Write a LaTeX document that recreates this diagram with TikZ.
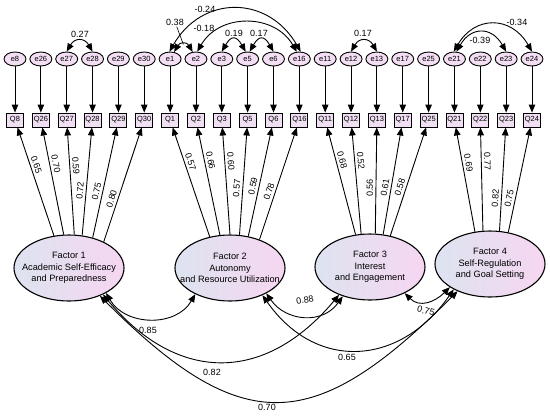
\documentclass[tikz,border=0pt]{standalone}
\usepackage{fontspec}
\setmainfont{Liberation Sans}
\usepackage{tikz}
\usetikzlibrary{arrows.meta,shapes.geometric}
\definecolor{errpink}{RGB}{243,222,243}
\definecolor{qpink}{RGB}{240,223,243}
\definecolor{latentblue}{RGB}{221,227,240}
\definecolor{latentpink}{RGB}{246,214,241}

\begin{document}
\begin{tikzpicture}[->,>={Triangle[length=8pt,width=6.5pt]},x=1pt,y=-1pt,
                    line width=0.9pt,node distance=25.85pt]
  \tikzstyle{err}=[ellipse,draw,fill=errpink,minimum width=22pt,minimum height=14pt,
                   inner sep=0.5pt,font=\fontsize{7.5}{8}\selectfont]
  \tikzstyle{qbox}=[rectangle,draw,fill=qpink,minimum width=17pt,minimum height=14pt,
                    inner sep=0.5pt,font=\fontsize{7.5}{8}\selectfont]
  \tikzstyle{latent}=[ellipse,draw,line width=1.1pt,left color=latentblue,right color=latentpink,
                      minimum width=110pt,minimum height=66pt]
  \tikzstyle{ftext}=[align=center,font=\fontsize{9.2}{11.5}\selectfont]
  \tikzstyle{coef}=[font=\fontsize{9}{10}\selectfont,inner sep=1pt]
  \tikzstyle{loading}=[coef,sloped,above,inner sep=2.5pt]
  \tikzstyle{cov}=[<->,out=60,in=120]

  \useasboundingbox (0,0) rectangle (550,416);

  % error terms
  \node[err] (e8)                 at (15,59) {e8};
  \node[err] (e26) [right of=e8]  {e26};
  \node[err] (e27) [right of=e26] {e27};
  \node[err] (e28) [right of=e27] {e28};
  \node[err] (e29) [right of=e28] {e29};
  \node[err] (e30) [right of=e29] {e30};
  \node[err] (e1)  [right of=e30] {e1};
  \node[err] (e2)  [right of=e1]  {e2};
  \node[err] (e3)  [right of=e2]  {e3};
  \node[err] (e5)  [right of=e3]  {e5};
  \node[err] (e6)  [right of=e5]  {e6};
  \node[err] (e16) [right of=e6]  {e16};
  \node[err] (e11) [right of=e16] {e11};
  \node[err] (e12) [right of=e11] {e12};
  \node[err] (e13) [right of=e12] {e13};
  \node[err] (e17) [right of=e13] {e17};
  \node[err] (e25) [right of=e17] {e25};
  \node[err] (e21) [right of=e25] {e21};
  \node[err] (e22) [right of=e21] {e22};
  \node[err] (e23) [right of=e22] {e23};
  \node[err] (e24) [right of=e23] {e24};

  % observed items
  \node[qbox] (Q8)  [below of=e8,node distance=61pt]  {Q8};
  \node[qbox] (Q26) [below of=e26,node distance=61pt] {Q26};
  \node[qbox] (Q27) [below of=e27,node distance=61pt] {Q27};
  \node[qbox] (Q28) [below of=e28,node distance=61pt] {Q28};
  \node[qbox] (Q29) [below of=e29,node distance=61pt] {Q29};
  \node[qbox] (Q30) [below of=e30,node distance=61pt] {Q30};
  \node[qbox] (Q1)  [below of=e1,node distance=61pt]  {Q1};
  \node[qbox] (Q2)  [below of=e2,node distance=61pt]  {Q2};
  \node[qbox] (Q3)  [below of=e3,node distance=61pt]  {Q3};
  \node[qbox] (Q5)  [below of=e5,node distance=61pt]  {Q5};
  \node[qbox] (Q6)  [below of=e6,node distance=61pt]  {Q6};
  \node[qbox] (Q16) [below of=e16,node distance=61pt] {Q16};
  \node[qbox] (Q11) [below of=e11,node distance=61pt] {Q11};
  \node[qbox] (Q12) [below of=e12,node distance=61pt] {Q12};
  \node[qbox] (Q13) [below of=e13,node distance=61pt] {Q13};
  \node[qbox] (Q17) [below of=e17,node distance=61pt] {Q17};
  \node[qbox] (Q25) [below of=e25,node distance=61pt] {Q25};
  \node[qbox] (Q21) [below of=e21,node distance=61pt] {Q21};
  \node[qbox] (Q22) [below of=e22,node distance=61pt] {Q22};
  \node[qbox] (Q23) [below of=e23,node distance=61pt] {Q23};
  \node[qbox] (Q24) [below of=e24,node distance=61pt] {Q24};

  % factors
  \node[latent] (F1) at (69,268) {};
  \node[latent] (F2) at (230,268) {};
  \node[latent] (F3) at (370,267) {};
  \node[latent] (F4) at (490,264) {};
  \node[ftext] (F1t) at (F1) {Factor 1\\Academic Self-Efficacy\\and Preparedness};
  \node[ftext] (F2t) at (F2) {Factor 2\\Autonomy\\and Resource Utilization};
  \node[ftext] (F3t) at (F3) {Factor 3\\Interest\\and Engagement};
  \node[ftext] (F4t) at (F4) {Factor 4\\Self-Regulation\\and Goal Setting};

  \path (e8) edge (Q8)   (e26) edge (Q26) (e27) edge (Q27) (e28) edge (Q28)
        (e29) edge (Q29) (e30) edge (Q30) (e1) edge (Q1)   (e2) edge (Q2)
        (e3) edge (Q3)   (e5) edge (Q5)   (e6) edge (Q6)   (e16) edge (Q16)
        (e11) edge (Q11) (e12) edge (Q12) (e13) edge (Q13) (e17) edge (Q17)
        (e25) edge (Q25) (e21) edge (Q21) (e22) edge (Q22) (e23) edge (Q23)
        (e24) edge (Q24);

  % loadings
  \path (F1.115) edge node[loading,pos=.64] (l8)  {0.65} (Q8)
        (F1.99)  edge node[loading,pos=.65] (l26) {0.70} (Q26)
        (F1.81)  edge node[loading,pos=.64] (l27) {0.59} (Q27)
        (F1.68)  edge node[loading,pos=.41] (l28) {0.72} (Q28)
        (F1.52)  edge node[loading,pos=.41] (l29) {0.75} (Q29)
        (F1.37)  edge node[loading,pos=.36] (l30) {0.80} (Q30);
  \path (F2.123) edge node[loading,pos=.67] (l1)  {0.57} (Q1)
        (F2.107) edge node[loading,pos=.68] (l2)  {0.66} (Q2)
        (F2.90)  edge node[loading,pos=.68] (l3)  {0.60} (Q3)
        (F2.74)  edge node[loading,pos=.43] (l5)  {0.57} (Q5)
        (F2.60)  edge node[loading,pos=.45] (l6)  {0.59} (Q6)
        (F2.44)  edge node[loading,pos=.41] (l16) {0.78} (Q16);
  \path (F3.114) edge node[loading,pos=.68] (l11) {0.68} (Q11)
        (F3.105) edge node[loading,pos=.68] (l12) {0.52} (Q12)
        (F3.81)  edge node[loading,pos=.43] (l13) {0.56} (Q13)
        (F3.68)  edge node[loading,pos=.43] (l17) {0.61} (Q17)
        (F3.57)  edge node[loading,pos=.43] (l25) {0.58} (Q25);
  \path (F4.115) edge node[loading,pos=.65] (l21) {0.69} (Q21)
        (F4.102) edge node[loading,pos=.67] (l22) {0.77} (Q22)
        (F4.74)  edge node[loading,pos=.31] (l23) {0.82} (Q23)
        (F4.60)  edge node[loading,pos=.31] (l24) {0.75} (Q24);

  % error covariances
  \path (e27.north) edge[cov,looseness=1.6] (e28.north)
        (e1.60)     edge[cov,looseness=1.6] node[coordinate,pos=.5] (m12) {} (e2.115)
        (e1.95)     edge[cov,looseness=1.28] (e16.80)
        (e2.80)     edge[cov,looseness=1.15] (e16.110)
        (e3.north)  edge[cov,looseness=2] (e5.105)
        (e5.75)     edge[cov,looseness=2] (e6.north)
        (e12.north) edge[cov,looseness=1.6] (e13.north)
        (e21.95)    edge[cov,looseness=1.37] (e24.north)
        (e21.75)    edge[cov,looseness=1.5] (e23.north);
  \node[coef] (r2728) at (80,34) {0.27};
  \node[coef] (r12)   at (175,22) {0.38};
  \node[coef] (r116)  at (205,9) {-0.24};
  \node[coef] (r216)  at (204,28) {-0.18};
  \node[coef] (r35)   at (234,33) {0.19};
  \node[coef] (r56)   at (259,33) {0.17};
  \node[coef] (r1213) at (363,33) {0.17};
  \node[coef] (r2124) at (517,22) {-0.34};
  \node[coef] (r2123) at (480,40) {-0.39};
  \draw[-,line width=0.6pt] (r12) -- (m12);

  % factor correlations
  \path (F1.-34) edge[cov,out=-60,in=-120,looseness=1.1]  (F2.-143)
        (F1.-38) edge[cov,out=-50,in=-130,looseness=1.26] (F3.-138)
        (F1.-42) edge[cov,out=-45,in=-135,looseness=1.45] (F4.-140)
        (F2.-35) edge[cov,out=-55,in=-125,looseness=1.16] (F3.-133)
        (F2.-40) edge[cov,out=-55,in=-125,looseness=1.25] (F4.-145)
        (F3.-37) edge[cov,out=-45,in=-135,looseness=1.18] (F4.-150);
  \node[coef] (r12f) at (148,330) {0.85};
  \node[coef] (r13f) at (212,372) {0.82};
  \node[coef] (r14f) at (267,407) {0.70};
  \node[coef] (r23f) [rotate=10] at (305,300) {0.88};
  \node[coef] (r24f) at (347,357) {0.65};
  \node[coef] (r34f) [rotate=-15] at (426,311) {0.75};
\end{tikzpicture}
\end{document}
